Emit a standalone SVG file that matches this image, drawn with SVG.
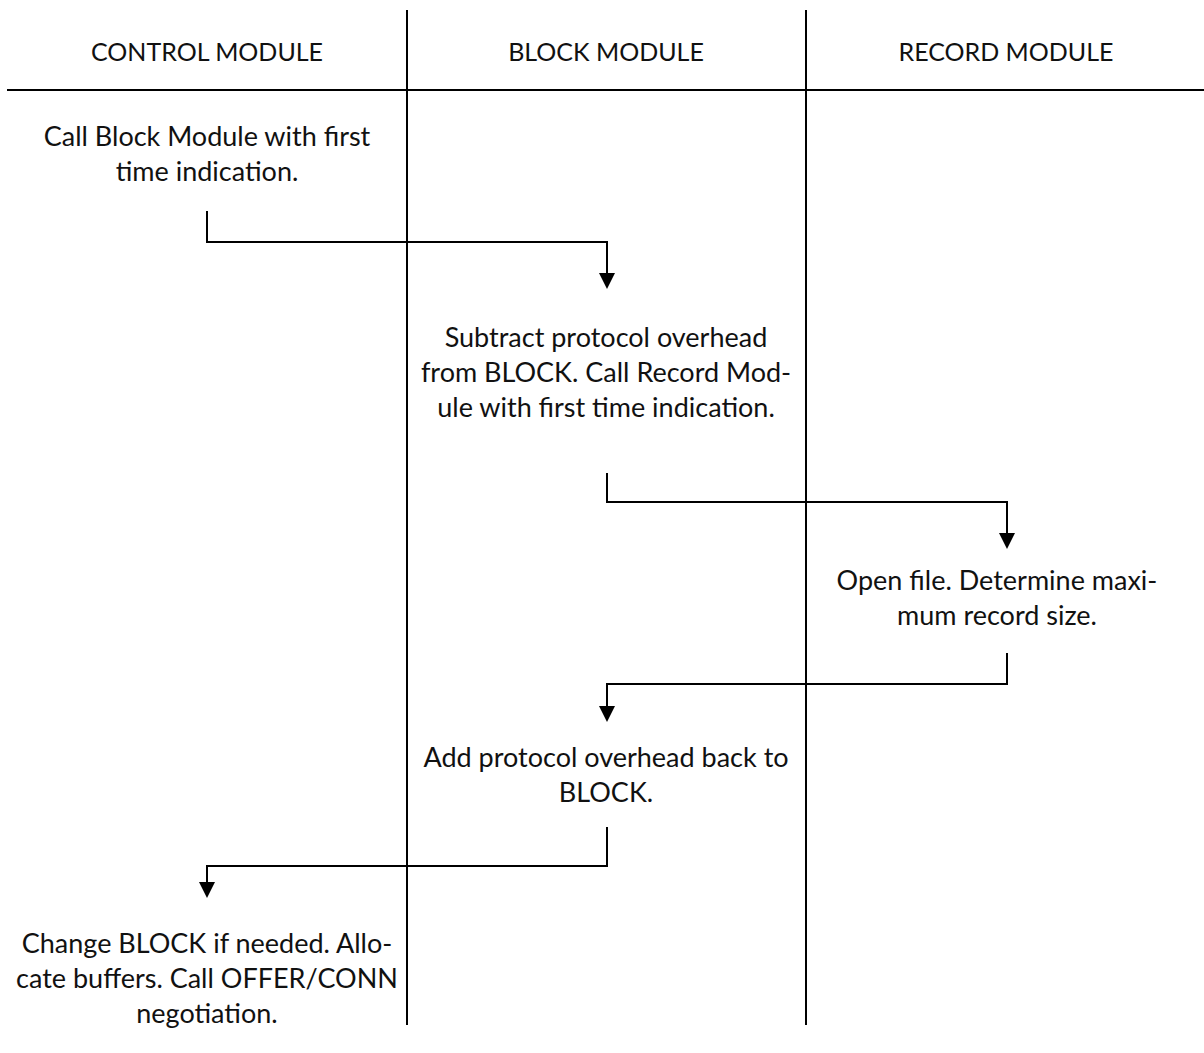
<svg xmlns="http://www.w3.org/2000/svg" width="1204" height="1053" viewBox="0 0 1204 1053">
<defs>
<style>
.lane{stroke:#000;stroke-width:2;fill:none}
.conn{stroke:#000;stroke-width:2;fill:none}
text{font-family:Lato,"Liberation Sans",sans-serif;font-size:27px;fill:#111;text-anchor:middle}
text.hdr{font-size:25px}
</style>
<marker id="arr" markerUnits="userSpaceOnUse" markerWidth="16" markerHeight="16" viewBox="0 0 16 16" refX="10" refY="8" orient="auto">
<path d="M0,0 L16,8 L0,16 z" fill="#000"/>
</marker>
</defs>
<rect width="1204" height="1053" fill="#fff"/>
<g id="lanes">
<line class="lane" x1="407" y1="10" x2="407" y2="1025"/>
<line class="lane" x1="806" y1="10" x2="806" y2="1025"/>
<line class="lane" x1="7" y1="90" x2="1204" y2="90"/>
</g>
<g id="header-control"><text class="hdr" x="207" y="61">CONTROL MODULE</text></g>
<g id="header-block"><text class="hdr" x="606" y="61">BLOCK MODULE</text></g>
<g id="header-record"><text class="hdr" x="1006" y="61">RECORD MODULE</text></g>
<g id="connectors">
<path class="conn" d="M207,211 V242 H607 V283" marker-end="url(#arr)"/>
<path class="conn" d="M607,473 V502 H1007 V543" marker-end="url(#arr)"/>
<path class="conn" d="M1007,653 V684 H607 V716" marker-end="url(#arr)"/>
<path class="conn" d="M607,827 V866 H207 V892" marker-end="url(#arr)"/>
</g>
<g id="step1">
<text x="207" y="146">Call Block Module with first</text>
<text x="207" y="181">time indication.</text>
</g>
<g id="step2">
<text x="606" y="347">Subtract protocol overhead</text>
<text x="606" y="382">from BLOCK. Call Record Mod-</text>
<text x="606" y="417">ule with first time indication.</text>
</g>
<g id="step3">
<text x="997" y="590">Open file. Determine maxi-</text>
<text x="997" y="625">mum record size.</text>
</g>
<g id="step4">
<text x="606" y="767">Add protocol overhead back to</text>
<text x="606" y="802">BLOCK.</text>
</g>
<g id="step5">
<text x="207" y="953">Change BLOCK if needed. Allo-</text>
<text x="207" y="988">cate buffers. Call OFFER/CONN</text>
<text x="207" y="1023">negotiation.</text>
</g>
</svg>
